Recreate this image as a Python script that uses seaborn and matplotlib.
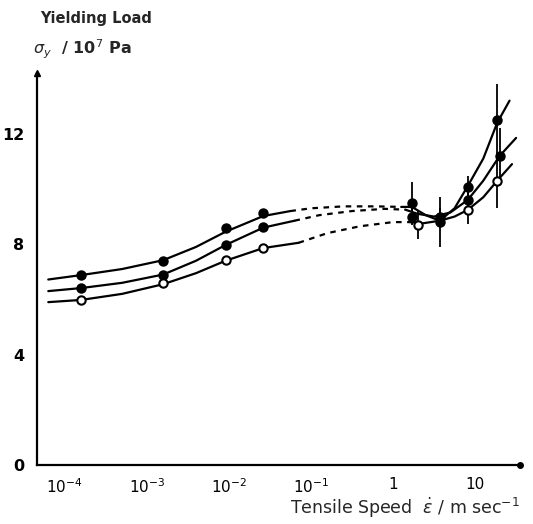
import numpy as np
import pandas as pd
import matplotlib
matplotlib.use("Agg")
import matplotlib.pyplot as plt
import seaborn as sns

# ---- data (log10 of tensile speed, yield stress / 1e7 Pa) ----
# measured points
a_logx = [-3.8, -2.8, -2.04, -1.58, 0.23, 0.57, 0.91, 1.27]
a_y    = [6.88, 7.39, 8.59, 9.13, 9.5, 8.8, 10.07, 12.5]
a_err  = [0.15, 0.1, 0.15, 0.15, 0.75, 0.9, 0.4, 1.3]

b_logx = [-3.8, -2.8, -2.04, -1.58, 0.23, 0.57, 0.91, 1.30]
b_y    = [6.41, 6.88, 7.97, 8.62, 9.0, 9.0, 9.6, 11.2]
b_err  = [0.1, 0.1, 0.1, 0.1, 0.3, 0.3, 0.3, 1.0]

c_logx = [-3.8, -2.8, -2.04, -1.58, 0.3, 0.91, 1.27]
c_y    = [5.98, 6.59, 7.43, 7.86, 8.7, 9.24, 10.3]
c_err  = [0.0, 0.0, 0.0, 0.0, 0.5, 0.5, 1.0]

# guide curves (solid / dashed parts)
a_curve_x  = [-4.2, -3.8, -3.3, -2.8, -2.4, -2.04, -1.58, -1.25]
a_curve_y  = [6.72, 6.88, 7.1, 7.42, 7.9, 8.45, 9.02, 9.2]
a_dash_x   = [-1.25, -1.0, -0.6, -0.2, 0.1]
a_dash_y   = [9.2, 9.3, 9.37, 9.37, 9.35]
a_right_x  = [0.1, 0.23, 0.4, 0.57, 0.75, 0.91, 1.1, 1.27, 1.42]
a_right_y  = [9.35, 9.35, 9.05, 8.85, 9.3, 10.1, 11.1, 12.4, 13.2]

b_curve_x  = [-4.2, -3.8, -3.3, -2.8, -2.4, -2.04, -1.58, -1.2]
b_curve_y  = [6.3, 6.41, 6.6, 6.9, 7.4, 7.97, 8.6, 8.85]
b_dash_x   = [-1.2, -0.9, -0.5, -0.1, 0.15]
b_dash_y   = [8.85, 9.05, 9.2, 9.28, 9.25]
b_right_x  = [0.15, 0.3, 0.5, 0.7, 0.91, 1.1, 1.3, 1.5]
b_right_y  = [9.25, 9.1, 9.0, 9.15, 9.6, 10.3, 11.2, 11.85]

c_curve_x  = [-4.2, -3.8, -3.3, -2.8, -2.4, -2.04, -1.58, -1.15]
c_curve_y  = [5.9, 5.98, 6.2, 6.55, 6.95, 7.4, 7.86, 8.05]
c_dash_x   = [-1.15, -0.8, -0.4, 0.0, 0.2]
c_dash_y   = [8.05, 8.4, 8.65, 8.8, 8.8]
c_right_x  = [0.2, 0.35, 0.57, 0.75, 0.91, 1.1, 1.27, 1.45]
c_right_y  = [8.8, 8.75, 8.85, 9.0, 9.24, 9.7, 10.3, 10.9]

x_tick_vals   = [1e-4, 1e-3, 1e-2, 1e-1, 1, 10]
x_tick_labels = ["$\\mathregular{10^{-4}}$", "$\\mathregular{10^{-3}}$",
                 "$\\mathregular{10^{-2}}$", "$\\mathregular{10^{-1}}$", "1", "10"]
y_tick_vals   = [0, 4, 8, 12]
y_minor_vals  = [2, 6, 10]

sns.set_style("white")
plt.rcParams["font.family"] = ["DejaVu Sans"]

fig = plt.figure(figsize=(5.33, 5.24), dpi=100)
ax = fig.add_axes([0.069, 0.1126, 0.907, 0.748])

def curve(xs, ys, style):
    df = pd.DataFrame({"x": np.power(10.0, xs), "y": ys})
    sns.lineplot(data=df, x="x", y="y", ax=ax, color="black", lw=1.6,
                 linestyle=style, sort=False, estimator=None)

for cx, cy, dx, dy, rx, ry in [
    (a_curve_x, a_curve_y, a_dash_x, a_dash_y, a_right_x, a_right_y),
    (b_curve_x, b_curve_y, b_dash_x, b_dash_y, b_right_x, b_right_y),
    (c_curve_x, c_curve_y, c_dash_x, c_dash_y, c_right_x, c_right_y),
]:
    curve(cx, cy, "-")
    curve(dx, dy, (0, (2.5, 2.5)))
    curve(rx, ry, "-")

def pts(lx, y, err, fill):
    xs = np.power(10.0, lx)
    ax.errorbar(xs, y, yerr=err, fmt="none", ecolor="black", elinewidth=1.3,
                capsize=0, zorder=3)
    df = pd.DataFrame({"x": xs, "y": y})
    sns.scatterplot(data=df, x="x", y="y", ax=ax, s=36,
                    color="black" if fill else "white",
                    edgecolor="black", linewidth=1.5, zorder=4)

pts(a_logx, a_y, a_err, True)
pts(b_logx, b_y, b_err, True)
pts(c_logx, c_y, c_err, False)

ax.set_xscale("log")
ax.set_xlim(10 ** -4.34, 10 ** 1.55)
ax.set_ylim(0, 14.2)
ax.set_xticks(x_tick_vals)
ax.set_xticklabels(x_tick_labels)
ax.xaxis.set_minor_locator(matplotlib.ticker.NullLocator())
ax.set_yticks(y_tick_vals)
ax.set_yticklabels([str(v) for v in y_tick_vals])
ax.set_yticks(y_minor_vals, minor=True)
ax.tick_params(axis="both", which="both", direction="inout", length=6,
               width=1.3, colors="black", pad=6)
ax.tick_params(axis="x", labelsize=11)
ax.tick_params(axis="y", labelsize=11.5)
for lab in ax.get_yticklabels():
    lab.set_fontweight("bold")
ax.set_xlabel("")
ax.set_ylabel("")
for s in ["top", "right"]:
    ax.spines[s].set_visible(False)
for s in ["left", "bottom"]:
    ax.spines[s].set_linewidth(1.6)
    ax.spines[s].set_color("black")
ax.plot(1, 0, marker="o", ms=4, color="black", transform=ax.transAxes, clip_on=False)
ax.plot(0, 1, marker="^", ms=5, color="black", transform=ax.transAxes, clip_on=False)

fig.text(0.075, 0.965, "Yielding Load", fontsize=10.5, fontweight="bold", va="center", ha="left")
fig.text(0.062, 0.905, r"$\sigma_{y}$  / 10$^{7}$ Pa", fontsize=11.5, fontweight="bold",
         va="center", ha="left")
fig.text(0.975, 0.03, r"Tensile Speed  $\dot{\varepsilon}$ / m sec$^{-1}$", fontsize=12.5,
         va="center", ha="right")

fig.savefig("out.png", dpi=100, facecolor="white")
